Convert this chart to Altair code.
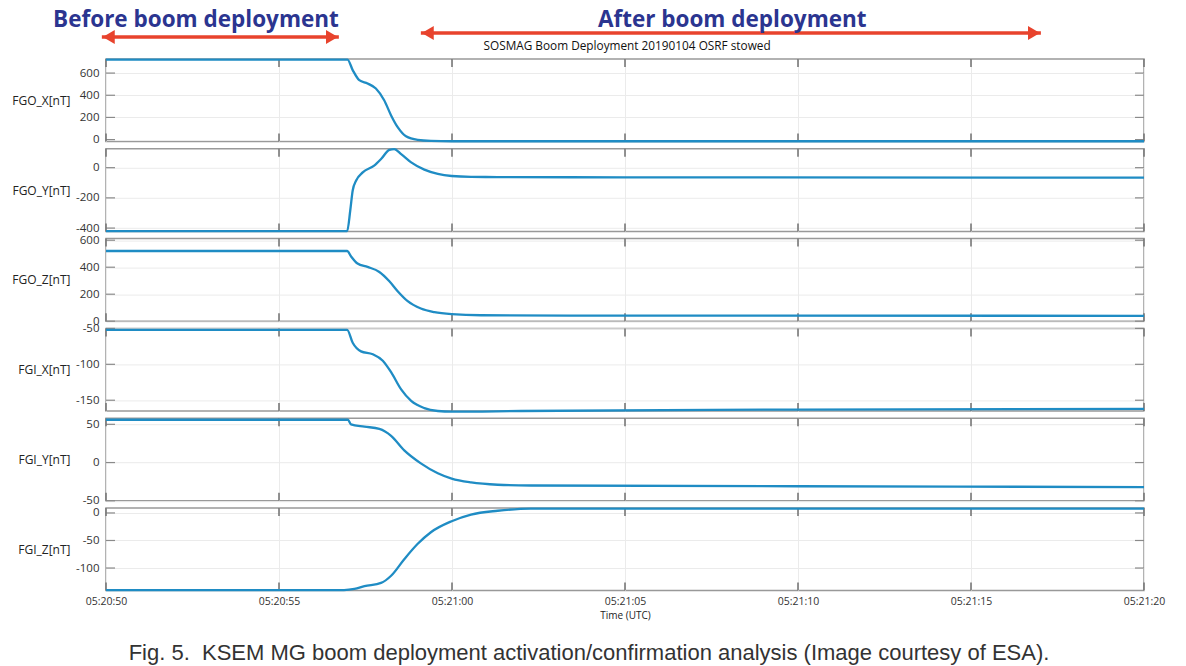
import altair as alt
import pandas as pd

# ---- data (time in seconds after 05:20:50 UTC) ----
fgo_x_t = [0, 6.98, 7.13, 7.32, 7.56, 7.80, 8.04, 8.24, 8.43, 8.67, 9.01, 9.39, 10.0, 30]
fgo_x_v = [722, 722, 627, 536, 506, 461, 355, 218, 112, 30, -3, -12, -15, -15]

fgo_y_t = [0, 6.97, 7.06, 7.13, 7.23, 7.42, 7.75, 7.95, 8.19, 8.33, 8.53, 8.82, 9.20, 9.59, 9.99, 10.55, 11.32, 15, 30]
fgo_y_v = [-420, -420, -282, -151, -85, -31, 13, 57, 118, 123, 90, 35, -13, -41, -55, -61, -62, -64, -66]

fgo_z_t = [0, 6.97, 7.08, 7.27, 7.56, 7.90, 8.19, 8.43, 8.72, 9.10, 9.49, 9.99, 10.84, 15, 30]
fgo_z_v = [520, 520, 481, 427, 402, 365, 296, 222, 148, 94, 67, 52, 44, 41, 40]

fgi_x_t = [0, 6.97, 7.13, 7.37, 7.71, 8.00, 8.24, 8.53, 8.82, 9.20, 9.59, 9.99, 12, 20, 30]
fgi_x_v = [-52, -52, -70, -82, -86, -95, -111, -135, -151, -161, -165, -166, -165, -163, -162]

fgi_y_t = [0, 6.99, 7.08, 7.47, 7.90, 8.24, 8.62, 9.10, 9.59, 9.99, 10.55, 11.32, 12.28, 20, 30]
fgi_y_v = [56, 56, 50, 47, 44, 35, 16, -1, -14, -21, -26, -29, -30, -31, -32]

fgi_z_t = [0, 6.88, 7.18, 7.47, 7.95, 8.24, 8.62, 9.01, 9.39, 9.99, 10.55, 11.32, 12.28, 15, 30]
fgi_z_v = [-140, -140, -138, -133, -127, -114, -84, -56, -35, -15, -3, 4, 8, 8, 8]

names = ["FGO_X[nT]", "FGO_Y[nT]", "FGO_Z[nT]", "FGI_X[nT]", "FGI_Y[nT]", "FGI_Z[nT]"]
domains = [[-18, 727], [-422, 125], [0, 612], [-165, -50], [-50, 58], [-141, 9]]
y_ticks = [[0, 200, 400, 600], [-400, -200, 0], [0, 200, 400, 600],
           [-150, -100, -50], [-50, 0, 50], [-100, -50, 0]]
times = [fgo_x_t, fgo_y_t, fgo_z_t, fgi_x_t, fgi_y_t, fgi_z_t]
values = [fgo_x_v, fgo_y_v, fgo_z_v, fgi_x_v, fgi_y_v, fgi_z_v]

x_ticks = [0, 5, 10, 15, 20, 25, 30]
x_tick_labels = ["05:20:50", "05:20:55", "05:21:00", "05:21:05", "05:21:10", "05:21:15", "05:21:20"]

header_labels = ["Before boom deployment", "After boom deployment"]
header_t = [2.6, 18.1]
subtitle = "SOSMAG Boom Deployment 20190104 OSRF stowed"
subtitle_t = [15.06]
before_arrow = [-0.12, 6.73]
after_arrow = [9.10, 27.02]
caption = "Fig. 5.\u00a0 KSEM MG boom deployment activation/confirmation analysis (Image courtesy of ESA)."
caption_t = [13.96]

# ---- styling ----
W, H = 1038, 82.6
LINE = "#1f8cc4"
RED = "#e8432d"
NAVY = "#2b3590"
FONT = "Open Sans"
label_expr = "[" + ",".join("'%s'" % s for s in x_tick_labels) + "][round(datum.value/5)]"


def x_enc(last):
    kw = dict(values=x_ticks, grid=True, gridColor="#ebebeb", ticks=False, domain=False,
              labels=last, labelFlush=False, labelOverlap=False)
    if last:
        kw.update(labelExpr=label_expr, labelFontSize=10.5, labelPadding=6,
                  title="Time (UTC)", titleFontSize=10, titleFontWeight="normal", titlePadding=3)
    else:
        kw.update(title="")
    return alt.X("t:Q", scale=alt.Scale(domain=[0, 30], nice=False, zero=False), axis=alt.Axis(**kw))


def y_enc(i):
    ax = alt.Axis(values=y_ticks[i], grid=True, gridColor="#ebebeb", ticks=False, domain=False,
                  labelExpr="toString(datum.value)",
                  labelFontSize=11.5, labelPadding=7, labelOverlap=False, labelFlush=False,
                  title=names[i], titleAngle=0, titleAlign="right", titleBaseline="middle",
                  titleX=-36, titleY=H / 2, titleFontSize=12, titleFontWeight="normal")
    return alt.Y("v:Q", scale=alt.Scale(domain=domains[i], nice=False, zero=False), axis=ax)


panels = []
for i in range(6):
    last = i == 5
    X = x_enc(last)
    Y = y_enc(i)
    df = pd.DataFrame({"t": times[i], "v": values[i]})
    line = alt.Chart(df).mark_line(color=LINE, strokeWidth=2.3, interpolate="monotone").encode(x=X, y=Y)
    ydf = pd.DataFrame({"v": y_ticks[i]})
    xdf = pd.DataFrame({"t": x_ticks})
    ytl = alt.Chart(ydf).mark_rule(color="#8a8a8a", strokeWidth=1.2).encode(y=Y, x=alt.value(0), x2=alt.value(9))
    ytr = alt.Chart(ydf).mark_rule(color="#8a8a8a", strokeWidth=1.2).encode(y=Y, x=alt.value(W - 9), x2=alt.value(W))
    xtt = alt.Chart(xdf).mark_rule(color="#777777", strokeWidth=1.6).encode(x=X, y=alt.value(0), y2=alt.value(8))
    xtb = alt.Chart(xdf).mark_rule(color="#777777", strokeWidth=1.6).encode(x=X, y=alt.value(H - 8), y2=alt.value(H))
    layers = [ytl, ytr, xtt, xtb, line]

    if i == 0:
        hdf = pd.DataFrame({"t": header_t, "label": header_labels})
        head = alt.Chart(hdf).mark_text(font=FONT, fontSize=22.5, fontWeight="bold", color=NAVY,
                                        baseline="middle", align="center").encode(
            x=X, y=alt.value(-39), text="label:N")
        sdf = pd.DataFrame({"t": subtitle_t, "label": [subtitle]})
        sub = alt.Chart(sdf).mark_text(font=FONT, fontSize=11.8, color="#111111",
                                       baseline="middle", align="center").encode(
            x=X, y=alt.value(-13), text="label:N")
        for (a0, a1), yy in ((before_arrow, -22), (after_arrow, -26)):
            adf = pd.DataFrame({"t": [a0], "t2": [a1]})
            rule = alt.Chart(adf).mark_rule(color=RED, strokeWidth=3.5).encode(
                x=X, x2="t2:Q", y=alt.value(yy))
            ldf = pd.DataFrame({"t": [a0 + 0.2]})
            rdf = pd.DataFrame({"t": [a1 - 0.2]})
            lh = alt.Chart(ldf).mark_point(shape="triangle-left", filled=True, size=190, color=RED,
                                           opacity=1).encode(x=X, y=alt.value(yy))
            rh = alt.Chart(rdf).mark_point(shape="triangle-right", filled=True, size=190, color=RED,
                                           opacity=1).encode(x=X, y=alt.value(yy))
            layers += [rule, lh, rh]
        layers += [head, sub]

    if last:
        cdf = pd.DataFrame({"t": caption_t, "label": [caption]})
        cap = alt.Chart(cdf).mark_text(font="Liberation Sans", fontSize=22, color="#333333",
                                       baseline="middle", align="center").encode(
            x=X, y=alt.value(H + 62), text="label:N")
        layers.append(cap)

    panels.append(alt.layer(*layers).properties(width=W, height=H))

chart = alt.vconcat(*panels, spacing=6.8, bounds="flush").configure_view(
    stroke="#999999", strokeWidth=1.5
).configure_axis(
    labelFont=FONT, titleFont=FONT, labelColor="#333333", titleColor="#222222"
).properties(
    padding={"left": 2, "top": 0, "right": 5, "bottom": 5}
)

chart.save("out.html", embed_options={"renderer": "svg", "actions": False})
